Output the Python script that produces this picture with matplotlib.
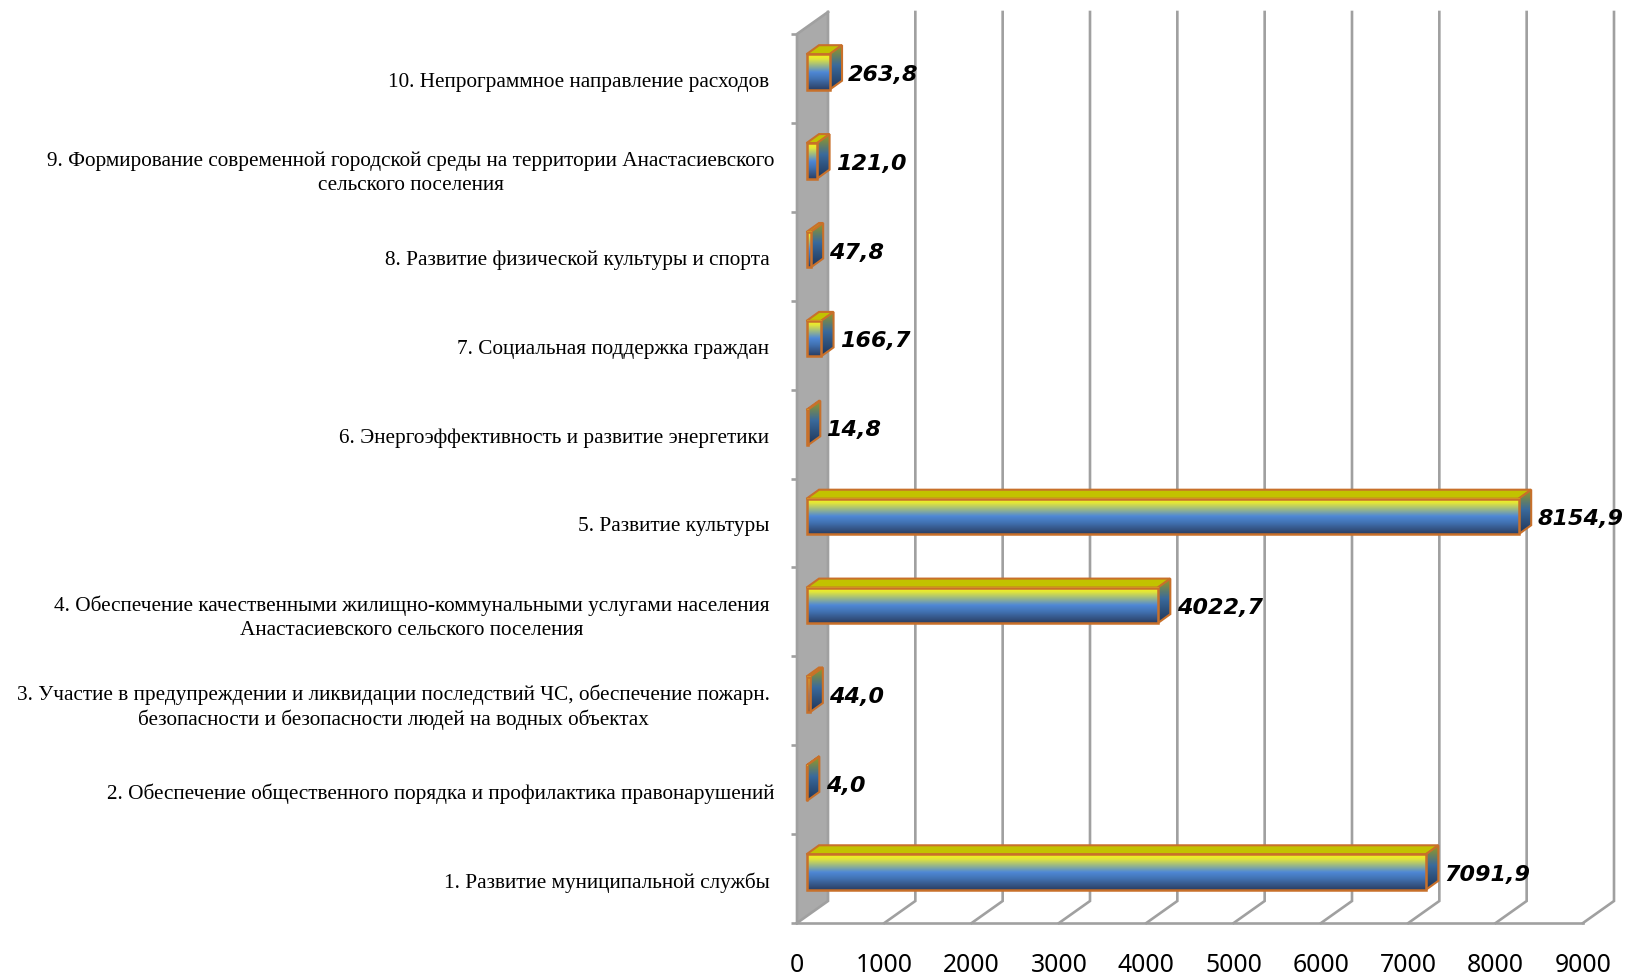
#!/usr/bin/env python

# Horizontal pseudo-3D bars: spending by municipal programme

import numpy as np
import matplotlib
matplotlib.use("Agg")
import matplotlib.pyplot as plt
from matplotlib.colors import LinearSegmentedColormap
from matplotlib.patches import Polygon
from matplotlib.transforms import ScaledTranslation

# bottom to top
categories = [
    "1. Развитие муниципальной службы ",
    "2. Обеспечение общественного порядка и профилактика правонарушений",
    "3. Участие в предупреждении и ликвидации последствий ЧС, обеспечение пожарн. \n"
    "безопасности и безопасности людей на водных объектах ",
    "4. Обеспечение качественными жилищно-коммунальными услугами населения \n"
    "Анастасиевского сельского поселения ",
    "5. Развитие культуры ",
    "6. Энергоэффективность и развитие энергетики ",
    "7. Социальная поддержка граждан ",
    "8. Развитие физической культуры и спорта ",
    "9. Формирование современной городской среды на территории Анастасиевского\n"
    "сельского поселения",
    "10. Непрограммное направление расходов ",
]
values = [7091.9, 4.0, 44.0, 4022.7, 8154.9, 14.8, 166.7, 47.8, 121.0, 263.8]
value_labels = ["7091,9", "4,0", "44,0", "4022,7", "8154,9",
                "14,8", "166,7", "47,8", "121,0", "263,8"]
xticks = [0, 1000, 2000, 3000, 4000, 5000, 6000, 7000, 8000, 9000]

# figure size and front plane of the plot, in pixels
fig_w, fig_h = 1625, 976
left, right, top, bottom = 797, 1583, 34, 923

# depth offsets in pixels
wall_dx, wall_dy = 31, 22
bar_off_dx, bar_off_dy = 9.5, 6.5
bar_dx, bar_dy = 12.5, 9
bar_px = 35.5

grey = "#a0a0a0"
edge = "#c8702a"
front_cmap = LinearSegmentedColormap.from_list(
    "front", [(0, "#f6f615"), (0.13, "#e4e638"), (0.5, "#4f88d6"),
              (0.68, "#4273b4"), (1, "#2a3e63")])
side_cmap = LinearSegmentedColormap.from_list(
    "side", [(0, "#9a9c1c"), (0.45, "#3a6a9c"), (1, "#1f3558")])

fig = plt.figure(figsize=(fig_w/100, fig_h/100), dpi=100)
ax = fig.add_axes([left/fig_w, 1-bottom/fig_h,
                   (right-left)/fig_w, (bottom-top)/fig_h])

# pixel to data factors
ux = xticks[-1]/(right-left)
uy = len(values)/(bottom-top)
n = len(values)

# back wall, floor lines and grid
ddx, ddy = wall_dx*ux, wall_dy*uy
ax.add_patch(Polygon([(0, 0), (ddx, ddy), (ddx, n+ddy), (0, n)], fc="#aaaaaa",
                     ec="none", clip_on=False, zorder=1))
for x in xticks:
    ax.plot([x, x+ddx, x+ddx], [0, ddy, n+ddy], color=grey, lw=1.9,
            clip_on=False, zorder=2, solid_joinstyle="miter")
ax.plot([0, 0, ddx], [0, n, n+ddy], color=grey, lw=1.9, clip_on=False, zorder=2)

# bars
ox, oy = bar_off_dx*ux, bar_off_dy*uy
bx, by = bar_dx*ux, bar_dy*uy
h = bar_px*uy
grad = np.linspace(0, 1, 128).reshape(-1, 1)
for i, (v, lab) in enumerate(zip(values, value_labels)):
    x0 = ox
    x1 = ox+v
    y0 = i+0.5+oy-h/2
    y1 = y0+h
    z = 3+0.01*i
    # top face
    ax.add_patch(Polygon([(x0, y1), (x1, y1), (x1+bx, y1+by), (x0+bx, y1+by)],
                         fc="#c2c200", ec=edge, lw=1.5, zorder=z))
    # side face
    side = Polygon([(x1, y0), (x1+bx, y0+by), (x1+bx, y1+by), (x1, y1)],
                   fc="none", ec="none", transform=ax.transData)
    ax.add_patch(side)
    im = ax.imshow(grad, cmap=side_cmap, extent=(x1, x1+bx, y0, y1+by),
                   aspect="auto", origin="upper", zorder=z)
    im.set_clip_path(side)
    ax.add_patch(Polygon([(x1, y0), (x1+bx, y0+by), (x1+bx, y1+by), (x1, y1)],
                         fc="none", ec=edge, lw=1.5, zorder=z+0.001))
    # front face
    ax.imshow(grad, cmap=front_cmap, extent=(x0, x1, y0, y1),
              aspect="auto", origin="upper", zorder=z+0.002)
    ax.add_patch(Polygon([(x0, y0), (x1, y0), (x1, y1), (x0, y1)],
                         fc="none", ec=edge, lw=1.8, zorder=z+0.003))
    # value label
    ax.annotate(lab, xy=(x1+bx, (y0+y1)/2), xytext=(4.5, -2),
                textcoords="offset points", ha="left", va="center",
                fontsize=16.0, fontweight="bold", fontstyle="oblique",
                family="DejaVu Sans", color="black", zorder=10)

ax.set_xlim(xticks[0], xticks[-1])
ax.set_ylim(0, n)
ax.patch.set_visible(False)
for s in ["top", "right"]:
    ax.spines[s].set_visible(False)
ax.spines["left"].set_visible(False)
ax.spines["bottom"].set_color(grey)
ax.spines["bottom"].set_linewidth(1.9)

ax.set_xticks(xticks)
ax.tick_params(axis="x", length=0, pad=21.5, labelsize=17.8)
for t in ax.get_xticklabels():
    t.set_family("Noto Sans")

ax.set_yticks(np.arange(n+1))
ax.set_yticklabels([])
ax.tick_params(axis="y", which="major", length=4.5, width=1.9, color=grey)
ax.set_yticks(np.arange(n)+0.5, categories, minor=True)
ax.tick_params(axis="y", which="minor", length=0, pad=16, labelsize=15.3)
down = ScaledTranslation(0, -1.0/72, fig.dpi_scale_trans)
for t in ax.get_yticklabels(minor=True):
    t.set_family("Liberation Serif")
    t.set_multialignment("center")
    t.set_linespacing(1.3)
    t.set_transform(t.get_transform()+down)

fig.savefig("out.png", dpi=100)
